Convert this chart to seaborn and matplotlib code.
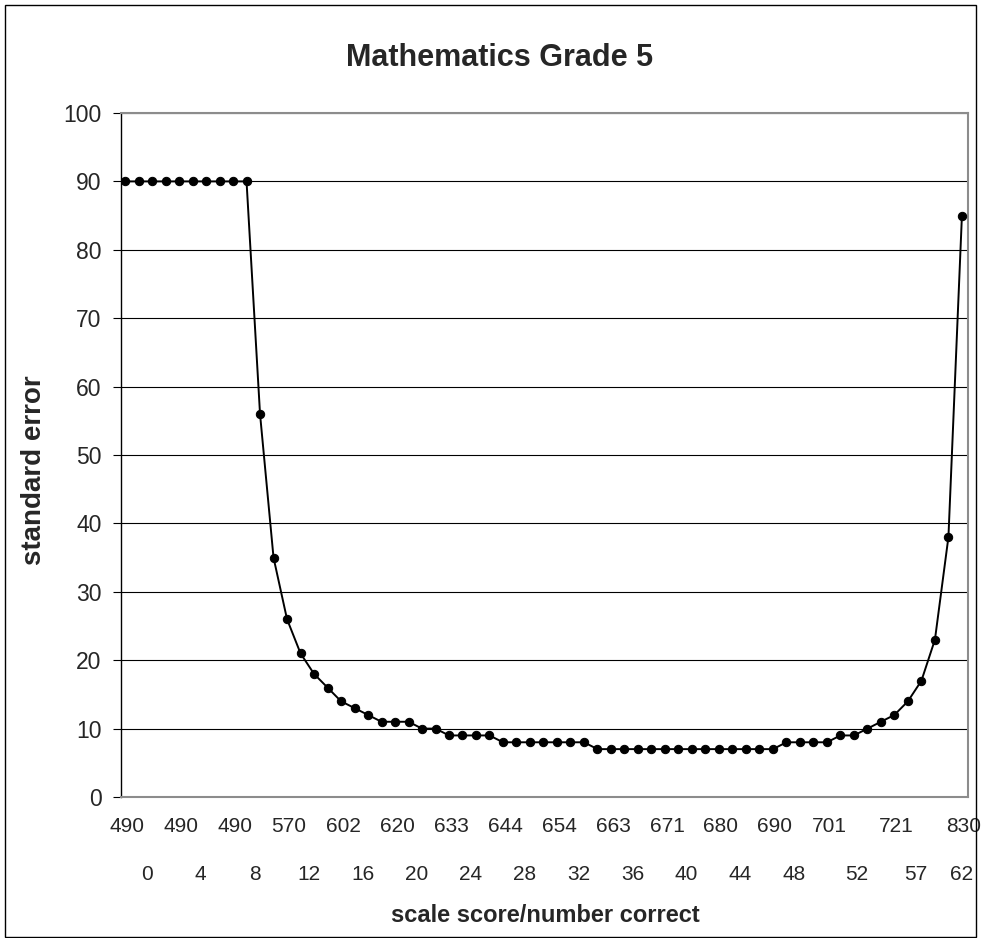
import numpy as np
import pandas as pd
import matplotlib
matplotlib.use("Agg")
import matplotlib.pyplot as plt
import matplotlib.transforms as mtransforms
from matplotlib.patches import Rectangle
import seaborn as sns

# values (raw score 0..62)
number_correct = list(range(63))
std_error = [90, 90, 90, 90, 90, 90, 90, 90, 90, 90,
             56, 35, 26, 21, 18, 16, 14, 13, 12,
             11, 11, 11, 10, 10, 9, 9, 9, 9,
             8, 8, 8, 8, 8, 8, 8,
             7, 7, 7, 7, 7, 7, 7, 7, 7, 7, 7, 7, 7, 7,
             8, 8, 8, 8, 9, 9, 10, 11, 12, 14, 17, 23, 38, 85]

# category labels shown under the axis
label_idx = [0, 4, 8, 12, 16, 20, 24, 28, 32, 36, 40, 44, 48, 52, 57, 62]
score_labels = ["490", "490", "490", "570", "602", "620", "633", "644",
                "654", "663", "671", "680", "690", "701", "721", "830"]
number_labels = ["0", "4", "8", "12", "16", "20", "24", "28",
                 "32", "36", "40", "44", "48", "52", "57", "62"]
# horizontal shift of the second label row (in category units)
number_shift = [1.6] * 13 + [2.2, 1.6, 0.0]

df = pd.DataFrame({"n": number_correct, "se": std_error})

sns.set_style("white")
plt.rcParams["font.family"] = ["Liberation Sans", "DejaVu Sans"]

fig = plt.figure(figsize=(9.83, 9.38), dpi=100)
ax = fig.add_axes([121 / 983, 1 - 797 / 938, (968 - 121) / 983, (797 - 113) / 938])

sns.lineplot(data=df, x="n", y="se", ax=ax, color="black", linewidth=1.4,
             marker="o", markersize=6, markeredgecolor="black",
             markerfacecolor="black", zorder=3)

ax.set_xlim(-0.3, 62.45)
ax.set_ylim(0, 100)
ax.set_yticks(range(0, 101, 10))
ax.set_xticks([])
ax.yaxis.grid(True, color="black", linewidth=0.8)
ax.set_axisbelow(True)
ax.tick_params(axis="y", direction="out", length=6, width=0.8, color="black",
               labelsize=16.5, pad=8, left=True)

for side in ["top", "right", "bottom"]:
    ax.spines[side].set_color("#8c8c8c")
    ax.spines[side].set_linewidth(1.5)
ax.spines["left"].set_color("black")
ax.spines["left"].set_linewidth(1.0)

ax.set_xlabel("")
ax.set_ylabel("")

# two rows of category labels
trans = mtransforms.blended_transform_factory(ax.transData, fig.transFigure)
for i, s, n, sh in zip(label_idx, score_labels, number_labels, number_shift):
    ax.text(i + 0.15, 1 - 826 / 938, s, transform=trans, ha="center", va="center",
            fontsize=15)
    ax.text(i + sh, 1 - 874 / 938, n, transform=trans, ha="center", va="center",
            fontsize=15)

fig.text(500 / 983, 1 - 58 / 938, "Mathematics Grade 5", ha="center", va="center",
         fontsize=22, fontweight="bold")
fig.text(545 / 983, 1 - 915 / 938, "scale score/number correct", ha="center",
         va="center", fontsize=17, fontweight="bold")
fig.text(34 / 983, 1 - 470 / 938, "standard error", ha="center", va="center",
         rotation=90, fontsize=20, fontweight="bold")

# outer chart border
fig.patches.append(Rectangle((5 / 983, 1 / 938), 971 / 983, 932 / 938,
                             transform=fig.transFigure, fill=False,
                             edgecolor="black", linewidth=1.0))

fig.savefig("out.png", dpi=100)
